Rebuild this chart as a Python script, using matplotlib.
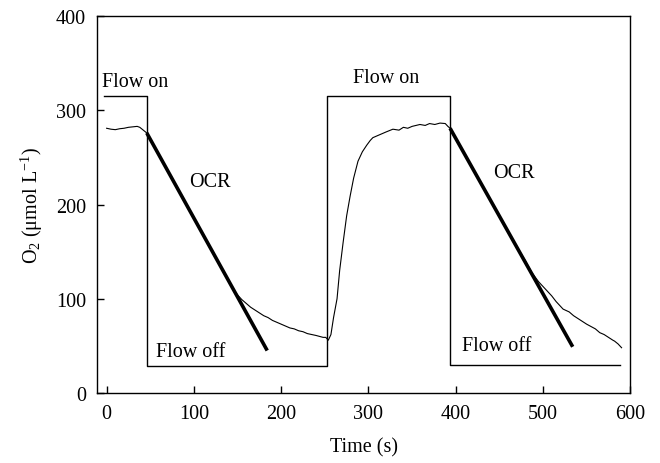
import matplotlib
matplotlib.use("Agg")
import matplotlib.pyplot as plt

plt.rcParams["font.family"] = ["Liberation Serif", "DejaVu Serif"]
plt.rcParams["mathtext.fontset"] = "custom"
plt.rcParams["mathtext.rm"] = "Liberation Serif"
plt.rcParams["mathtext.it"] = "Liberation Serif:italic"

# Measured O2 trace
time_s = [0, 5, 10, 15, 20, 25, 30, 35, 38, 42, 46,
          60, 80, 100, 120, 130, 136, 141, 146, 150, 155, 160, 165, 170, 175, 180,
          185, 190, 195, 200, 205, 210, 215, 220, 225, 230, 235, 240, 244, 248, 251, 254,
          257, 260, 264, 267, 271, 275, 279, 283, 288, 293, 298, 302, 305, 310,
          315, 320, 328, 335, 340, 345, 350, 359, 365, 370, 376, 382, 388, 391, 393.5,
          400, 410, 430, 450, 470, 480, 487, 495, 500, 505, 510, 515, 523, 530, 535,
          540, 545, 550, 554, 560, 565, 570, 575, 580, 582, 586, 590]
o2 = [281, 280, 279.5, 280.5, 281, 282, 282.5, 283, 282, 279, 276,
      253, 220, 186, 153, 136, 126, 117, 109, 104, 99, 95, 91, 88, 85, 82,
      80, 77, 75, 73, 71, 69, 68, 66, 65, 63, 62, 61, 60, 59, 59, 56,
      62, 80, 100, 130, 160, 188, 209, 228, 246, 256, 263, 268, 271, 273,
      275, 277, 280, 279, 282, 281, 283, 285, 284, 286, 285, 286.5, 286, 283, 281,
      270, 254, 221, 188, 155, 140, 128, 118, 113, 108, 103, 97, 89, 86, 82,
      79, 76, 73, 71, 68, 64, 62, 59, 56, 55, 52, 48]

# Flow regime (on / off) step line
flow_t = [-3, 46, 46, 252.5, 252.5, 393.5, 393.5, 588]
flow_v = [315, 315, 29, 29, 315, 315, 30, 30]

# Oxygen consumption rate fits
ocr1_t = [46, 184]
ocr1_v = [276, 45]
ocr2_t = [393.5, 534]
ocr2_v = [281, 49]

fig = plt.figure(figsize=(6.6, 4.64), dpi=100)
ax = fig.add_axes([0.147, 0.151, 0.808, 0.812])

ax.plot(flow_t, flow_v, color="black", lw=1.0)
ax.plot(time_s, o2, color="black", lw=0.8)
ax.plot(ocr1_t, ocr1_v, color="black", lw=2.6, solid_capstyle="butt")
ax.plot(ocr2_t, ocr2_v, color="black", lw=2.6, solid_capstyle="butt")

fs = 14.5
ax.text(-5, 331, "Flow on", fontsize=fs, va="center", ha="left")
ax.text(282, 335, "Flow on", fontsize=fs, va="center", ha="left")
ax.text(94, 224, "OCR", fontsize=fs, va="center", ha="left")
ax.text(443, 234, "OCR", fontsize=fs, va="center", ha="left")
ax.text(57, 44.5, "Flow off", fontsize=fs, va="center", ha="left")
ax.text(407, 50, "Flow off", fontsize=fs, va="center", ha="left")

ax.set_xlim(-11, 600)
ax.set_ylim(0, 400)
ax.set_xticks([0, 100, 200, 300, 400, 500, 600])
ax.set_yticks([0, 100, 200, 300, 400])
ax.tick_params(direction="in", length=5, width=1, labelsize=fs, pad=8)
for s in ax.spines.values():
    s.set_linewidth(1.0)

ax.set_xlabel("Time (s)", fontsize=fs, labelpad=10)
ax.set_ylabel(r"O$_2$ ($\mathrm{\mu}$mol L$^{-1}$)", fontsize=fs, labelpad=8)

fig.savefig("out.png", dpi=100)
